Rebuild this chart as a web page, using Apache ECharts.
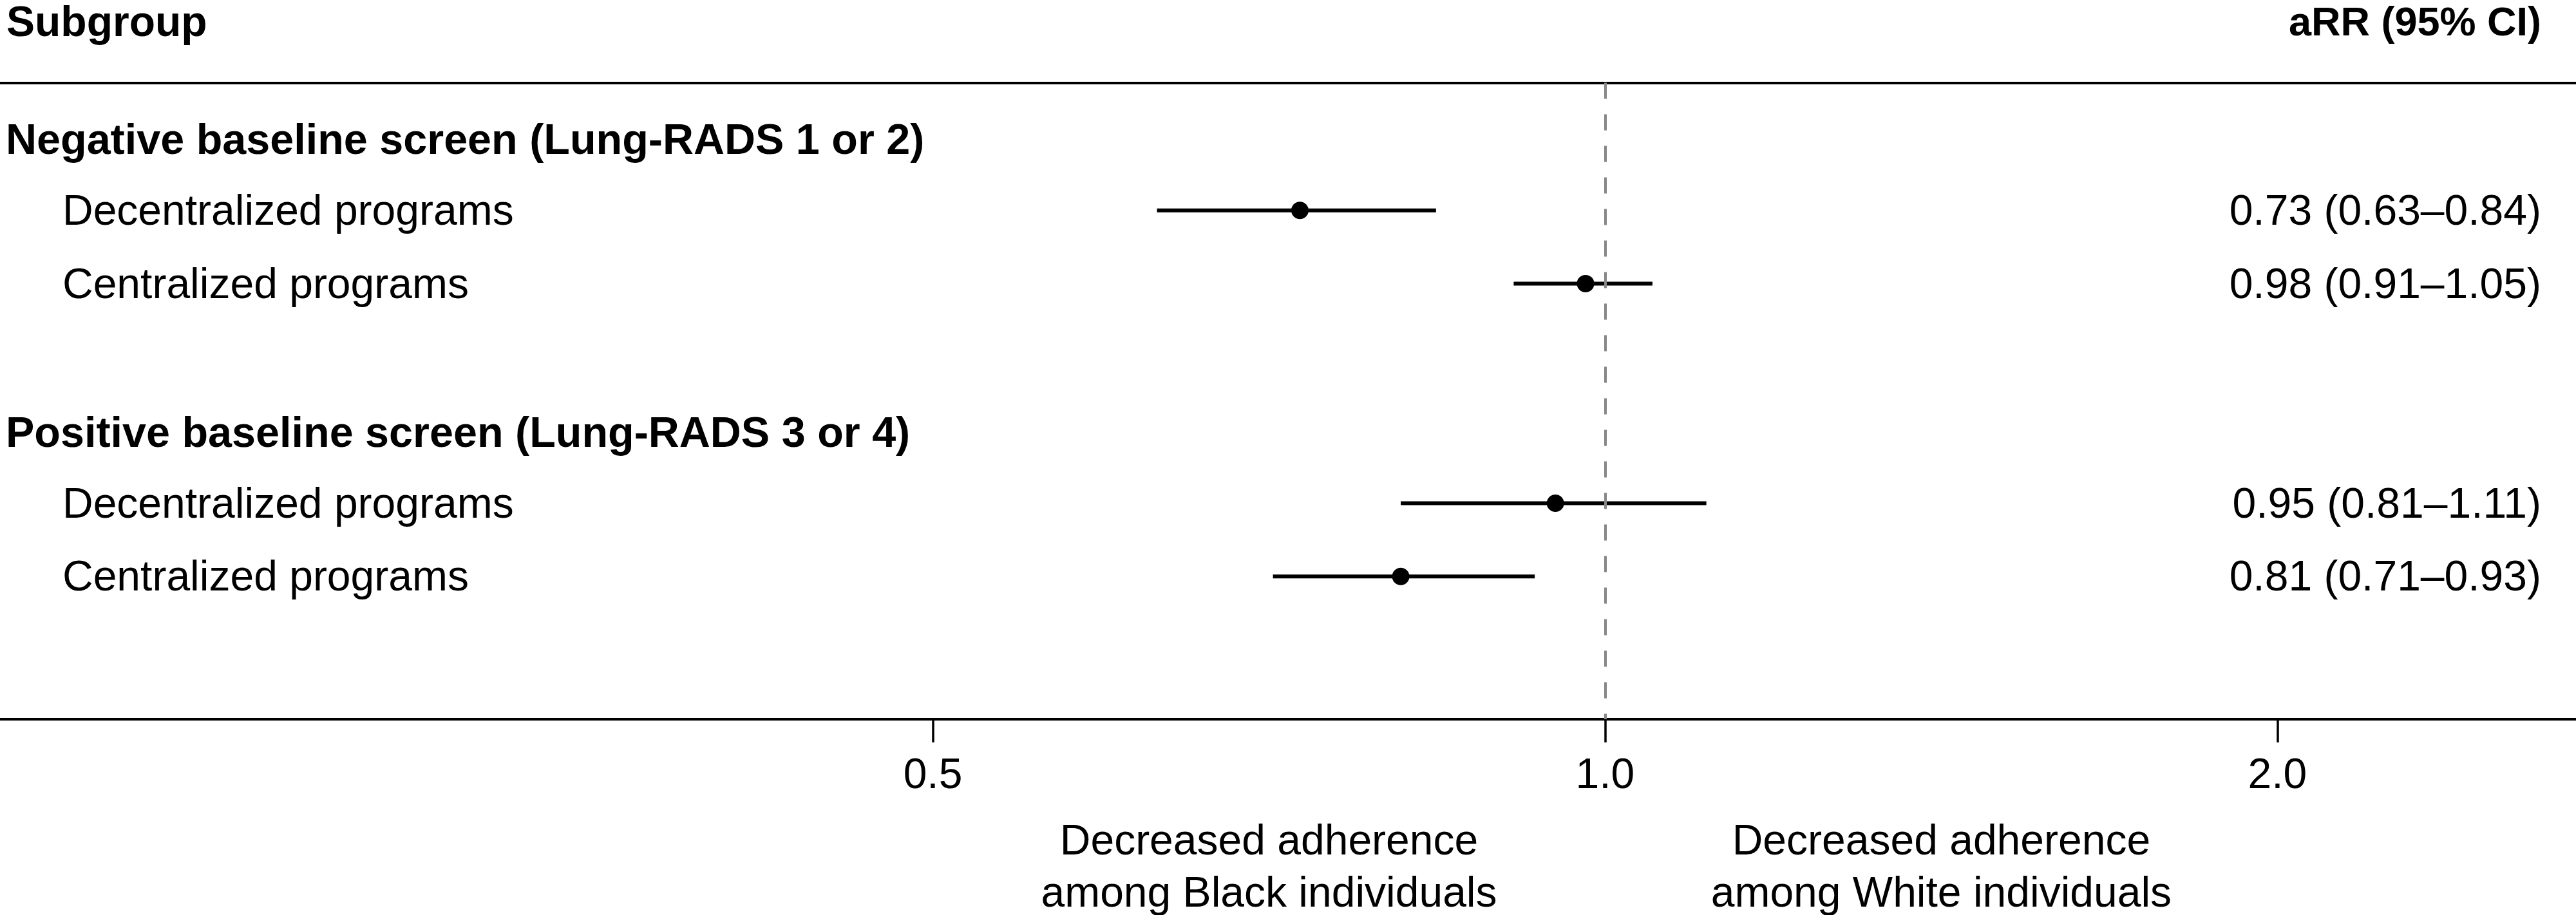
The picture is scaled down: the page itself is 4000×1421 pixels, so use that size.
<!DOCTYPE html>
<html><head><meta charset="utf-8">
<script src="https://cdn.jsdelivr.net/npm/echarts@6/dist/echarts.min.js"></script>
<style>html,body{margin:0;padding:0;background:#fff}#c{width:4000px;height:1421px}</style>
</head><body><div id="c"></div>
<script>
// ---- data ----
const columnHeaders = ['Subgroup', 'aRR (95% CI)'];
const groupHeaders = ['Negative baseline screen (Lung-RADS 1 or 2)', 'Positive baseline screen (Lung-RADS 3 or 4)'];
const groupRows = [0, 4];
const subgroupLabels = ['Decentralized programs', 'Centralized programs', 'Decentralized programs', 'Centralized programs'];
const subgroupRows = [1, 2, 5, 6];
const estimates = [0.73, 0.98, 0.95, 0.81];
const lowerCI = [0.63, 0.91, 0.81, 0.71];
const upperCI = [0.84, 1.05, 1.11, 0.93];
const tickValues = [0.5, 1.0, 2.0];
const tickLabels = ['0.5', '1.0', '2.0'];
const referenceValue = 1.0;
const directionLabels = ['Decreased adherence\namong Black individuals', 'Decreased adherence\namong White individuals'];

// ---- chart ----
const FONT = '"Liberation Sans", Arial, Helvetica, sans-serif';
const FS = 66;
const chart = echarts.init(document.getElementById('c'), null, {renderer: 'canvas'});

const pointData = estimates.map((v, i) => [v, subgroupRows[i]]);
const ciData = estimates.map((v, i) => [lowerCI[i], upperCI[i], subgroupRows[i]]);

const xCommon = {
  type: 'log', logBase: 2, min: 0.1911, max: 2.721,
  splitLine: {show: false}
};

chart.setOption({
  animation: false,
  backgroundColor: '#fff',
  grid: {left: 0, right: 0, top: 128.5, bottom: 1421 - 1117, containLabel: false},
  xAxis: [
    Object.assign({}, xCommon, {
      position: 'bottom',
      axisLine: {show: true, onZero: false, lineStyle: {color: '#000', width: 4}},
      axisTick: {show: true, length: 36, lineStyle: {color: '#000', width: 3.5}, customValues: tickValues},
      axisLabel: {
        show: true, customValues: tickValues, margin: 56,
        color: '#000', fontSize: FS, fontFamily: FONT,
        formatter: (v) => tickLabels[tickValues.findIndex(t => Math.abs(t - v) < 1e-6)] || ''
      }
    }),
    Object.assign({}, xCommon, {
      position: 'top',
      axisLine: {show: true, onZero: false, lineStyle: {color: '#000', width: 4}},
      axisTick: {show: false}, axisLabel: {show: false}
    })
  ],
  yAxis: {
    type: 'value', inverse: true, min: -0.743, max: 7.951,
    show: false, splitLine: {show: false}
  },
  series: [
    {
      type: 'scatter', data: [], z: 1, silent: true,
      markLine: {
        silent: true, symbol: 'none', animation: false,
        label: {show: false},
        lineStyle: {color: '#888888', width: 4, type: [25, 24], opacity: 1},
        data: [{xAxis: referenceValue}]
      }
    },
    {
      type: 'custom', z: 2, silent: true,
      data: ciData,
      renderItem: (params, api) => {
        const p1 = api.coord([api.value(0), api.value(2)]);
        const p2 = api.coord([api.value(1), api.value(2)]);
        return {type: 'line', shape: {x1: p1[0], y1: p1[1], x2: p2[0], y2: p2[1]},
                style: {stroke: '#000', lineWidth: 6}};
      },
      encode: {x: [0, 1], y: 2}
    },
    {
      type: 'scatter', z: 3, silent: true,
      data: pointData, symbol: 'circle', symbolSize: 27,
      itemStyle: {color: '#000', opacity: 1}
    }
  ]
});

// ---- text columns ----
function px(x, y) { return chart.convertToPixel({xAxisIndex: 0, yAxisIndex: 0}, [x, y]); }
const g = [];
const txt = (x, y, text, font, align) => g.push({
  type: 'text', x: x, y: y, silent: true,
  style: {text: text, fill: '#000', font: font, textAlign: align || 'left', textVerticalAlign: 'middle'}
});
const REG = FS + 'px ' + FONT;
const BOLD = 'bold ' + FS + 'px ' + FONT;
txt(10, 38, columnHeaders[0], BOLD);
txt(3946, 38, columnHeaders[1], 'bold 63px ' + FONT, 'right');
groupHeaders.forEach((h, i) => {
  const y = px(1, groupRows[i])[1];
  txt(9, y + 8, h, 'bold 66.5px ' + FONT);
});
subgroupLabels.forEach((s, i) => {
  const y = px(1, subgroupRows[i])[1];
  txt(97, y + 4, s, REG);
  const lab = estimates[i].toFixed(2) + ' (' + lowerCI[i].toFixed(2) + '\u2013' + upperCI[i].toFixed(2) + ')';
  txt(3946, y + 4, lab, REG, 'right');
});
const dirX = [referenceValue / Math.SQRT2, referenceValue * Math.SQRT2];
directionLabels.forEach((d, i) => {
  const x = px(dirX[i], 0)[0];
  g.push({
    type: 'text', x: x, y: 1268, silent: true,
    style: {text: d, fill: '#000', font: REG, textAlign: 'center', textVerticalAlign: 'top', lineHeight: 81}
  });
});
chart.setOption({graphic: g});
</script>
</body></html>
